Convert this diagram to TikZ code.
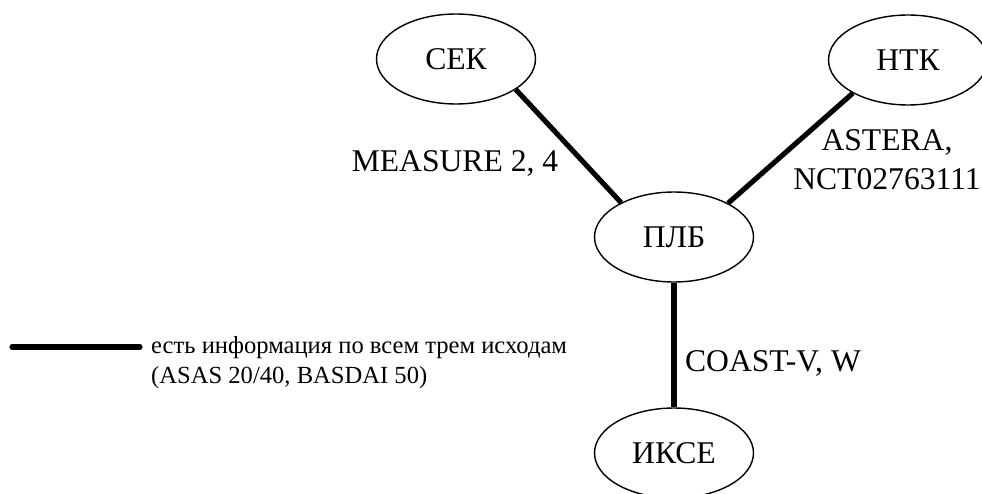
\documentclass[tikz,border=0pt]{standalone}
\usepackage{fontspec}
\setmainfont{Liberation Serif}
\usetikzlibrary{shapes.geometric}
\begin{document}
\begin{tikzpicture}[x=0.02cm,y=-0.02cm,
  oval/.style={ellipse,draw,line width=0.8pt,minimum width=3.18cm,minimum height=1.8cm,font=\fontsize{18}{22}\selectfont},
  link/.style={line width=2.9pt},
  lbl/.style={font=\fontsize{18}{22}\selectfont}]
\useasboundingbox (0,0) rectangle (982,493);
\node[oval] (sek) at (456,59) {СЕК}; \node[oval] (ntk) at (908,60) {НТК};
\node[oval] (plb) at (674,237) {ПЛБ}; \node[oval] (ikse) at (674,453) {ИКСЕ};
\draw[link] (sek.-27) -- (plb.147);
\draw[link] (ntk.211) -- (plb.32);
\draw[link] (plb.south) -- (ikse.north);
\node[lbl] (lsek) at (455,163) {MEASURE 2, 4};
\node[lbl,align=center] (lntk) at (887,160) {ASTERA,\\NCT02763111};
\node[lbl] (likse) at (773,363) {COAST-V, W};
% legend
\coordinate (keyA) at (12,347); \coordinate (keyB) at (140,347);
\draw[link,line cap=round] (keyA) -- (keyB);
\node[align=left,anchor=west,font=\fontsize{14}{17}\selectfont] (key) at (145,363) {есть информация по всем трем исходам\\(ASAS 20/40, BASDAI 50)};
\end{tikzpicture}
\end{document}
